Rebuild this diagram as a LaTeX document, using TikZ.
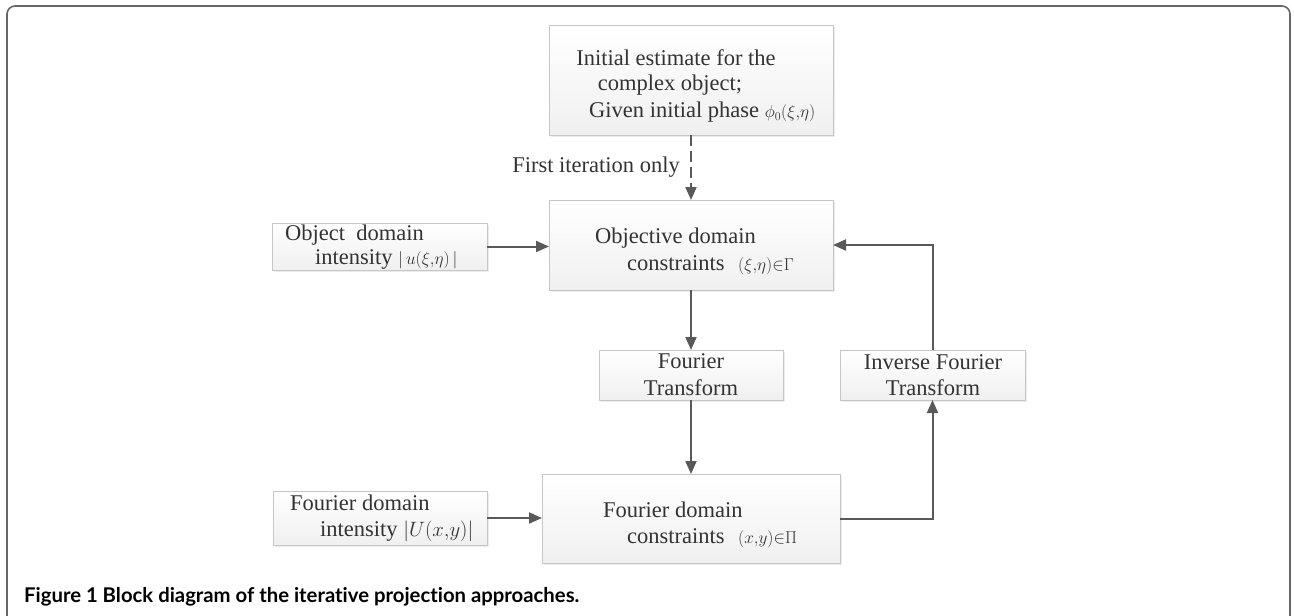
\documentclass[tikz,border=0pt]{standalone}
\usepackage{fontspec}
\setmainfont{Liberation Serif}
\newfontfamily\capfont[Ligatures=NoCommon]{Lato}
\usetikzlibrary{arrows.meta,shadows}
\tikzset{
  box/.style={draw=gray!45, line width=1pt, top color=white, bottom color=gray!12,
    drop shadow={shadow xshift=1.5pt, shadow yshift=-1.5pt, fill=gray!25, opacity=0.6},
    inner sep=0pt, outer sep=0pt},
  txt/.style={inner sep=0pt, text=black!80, font=\fontsize{22.5}{26}\selectfont},
  conn/.style={draw=black!65, line width=2pt, -{Triangle[length=13pt,width=11pt]}},
  frame/.style={draw=black!60, line width=1.6pt, rounded corners=8pt},
}
\newcommand{\smallmath}[1]{{\fontsize{16.5}{19}\selectfont$#1$}}
\begin{document}
\begin{tikzpicture}[x=1pt,y=-1pt]
\useasboundingbox (0,0) rectangle (1294,616);
\draw[frame] (7,630) -- (7,6) -- (1290,6) -- (1290,630);

% boxes
\node[box, minimum width=284pt, minimum height=110pt] (init) at (691,80) {};
\node[box, minimum width=284pt, minimum height=90pt] (obj) at (691,245) {};
\node[box, minimum width=215pt, minimum height=47pt] (objint) at (379.5,246.5) {};
\node[box, minimum width=184pt, minimum height=50pt] (ft) at (691,375) {};
\node[box, minimum width=185pt, minimum height=50pt] (ift) at (932.5,375) {};
\node[box, minimum width=298pt, minimum height=89pt] (fc) at (691,518.5) {};
\node[box, minimum width=214pt, minimum height=54pt] (fint) at (380,518) {};

% texts
\node[txt] (t1a) at (676,58) {Initial estimate for the};
\node[txt] (t1b) at (670,85) {complex object;};
\node[txt, anchor=west] (t1c) at (589,112) {Given initial phase \smallmath{\phi_0(\xi{,}\eta)}};

\node[txt, anchor=west] (t2a) at (595,238) {Objective domain};
\node[txt, anchor=west] (t2b) at (627,265) {constraints\hspace{0.6em}\smallmath{(\xi{,}\eta){\in}\Gamma}};

\node[txt, anchor=west] (t3a) at (285,235) {Object\hspace{0.5em}domain};
\node[txt, anchor=west] (t3b) at (315,259) {intensity \smallmath{|\,u(\xi{,}\eta)\,|}};

\node[txt] (t4a) at (691,361) {Fourier};
\node[txt] (t4b) at (691,388) {Transform};

\node[txt] (t5a) at (933,362) {Inverse Fourier};
\node[txt] (t5b) at (933,388) {Transform};

\node[txt, anchor=west] (t6a) at (603,510) {Fourier domain};
\node[txt, anchor=west] (t6b) at (627,538) {constraints\hspace{0.6em}\smallmath{(x{,}y){\in}\Pi}};

\node[txt, anchor=west] (t7a) at (290,503) {Fourier domain};
\node[txt, anchor=west] (t7b) at (320,531) {intensity $|U(x{,}y)|$};

\node[txt, anchor=east] (lab) at (680,167) {First iteration only};

% connectors
\draw[conn, dash pattern=on 11pt off 5pt] (init.south) -- (obj.north);
\draw[conn] (objint.east) -- (objint.east -| obj.west);
\draw[conn] (obj.south) -- (ft.north);
\draw[conn] (ft.south) -- (fc.north);
\draw[conn] (fint.east) -- (fint.east -| fc.west);
\draw[conn] (fc.east) -- (fc.east -| ift.south) -- (ift.south);
\draw[conn] (ift.north) -- (ift.north |- obj.east) -- (obj.east);

% caption
\node[anchor=west, inner sep=0pt, font=\capfont\bfseries\fontsize{20.3}{24}\selectfont] (cap) at (24,597) {Figure 1 Block diagram of the iterative projection approaches.};
\end{tikzpicture}
\end{document}
